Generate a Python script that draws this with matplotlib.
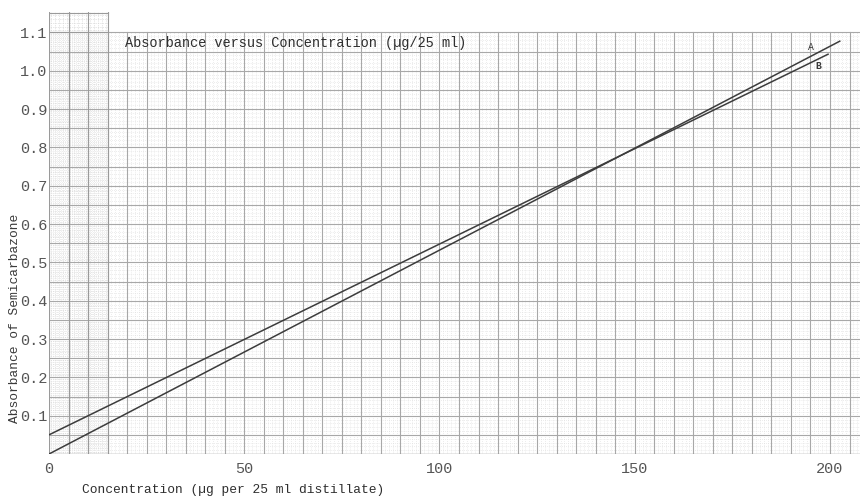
import numpy as np
import matplotlib.pyplot as plt
from matplotlib.ticker import FixedLocator

# line end points
conc = [0, 202.5]
absorb_A = [0.0, 1.077]
conc_B = [0, 199.5]
absorb_B = [0.05, 1.043]

xticks = [0, 50, 100, 150, 200]
yticks = [0.1, 0.2, 0.3, 0.4, 0.5, 0.6, 0.7, 0.8, 0.9, 1.0, 1.1]
ytick_labels = ["0.1", "0.2", "0.3", "0.4", "0.5", "0.6", "0.7", "0.8", "0.9", "1.0", "1.1"]

mono = "Liberation Mono"
ink = "#3a3a3a"

fig = plt.figure(figsize=(8.6, 4.97), dpi=100)
ax = fig.add_axes([49 / 860, 1 - 454 / 497, (860 - 49) / 860, (454 - 12) / 497])

x_max = (860 - 49) / 3.905
y_top = (454 - 12) / 383.3
ax.set_xlim(0, x_max)
ax.set_ylim(0, y_top)

# graph paper: faint dotted rulings, major rulings every 5 units / 0.05
for xv in np.arange(1, x_max, 1):
    ax.plot([xv, xv], [0, 1.1], color="#dadada", lw=0.5, ls=(0, (1, 2)), zorder=0)
for yv in np.arange(0.01, 1.1, 0.01):
    ax.plot([0, x_max], [yv, yv], color="#dadada", lw=0.5, ls=(0, (1, 2)), zorder=0)
for xv in np.arange(5, x_max, 5):
    ax.plot([xv, xv], [0, 1.1], color="#a8a8a8", lw=0.8, zorder=1)
for yv in np.arange(0.05, 1.101, 0.05):
    ax.plot([0, x_max], [yv, yv], color="#a8a8a8", lw=0.8, zorder=1)
# the denser strip at the left edge of the sheet
for xv in np.arange(0.5, 15, 1):
    ax.plot([xv, xv], [0, y_top], color="#cfcfcf", lw=0.5, ls=(0, (1, 1.5)), zorder=0)
for yv in np.arange(0.005, y_top, 0.01):
    ax.plot([0, 15], [yv, yv], color="#cfcfcf", lw=0.5, ls=(0, (1, 1.5)), zorder=0)
for xv in [0, 5, 10, 15]:
    ax.plot([xv, xv], [0, y_top], color="#9a9a9a", lw=0.8, zorder=1)
for yv in np.arange(1.1, y_top, 0.05):
    ax.plot([0, 15], [yv, yv], color="#9a9a9a", lw=0.8, zorder=1)
ax.plot([0, x_max], [0, 0], color="#8a8a8a", lw=1.0, zorder=1)

ax.plot(conc, absorb_A, color="#3c3c3c", lw=1.1, zorder=3)
ax.plot(conc_B, absorb_B, color="#3c3c3c", lw=1.1, zorder=3)
ax.text(195, 1.062, "A", fontsize=7, color=ink, family=mono, ha="center", va="center")
ax.text(197, 1.012, "B", fontsize=7, color=ink, family=mono, fontweight="bold", ha="center", va="center")

ax.text(19.5, 1.072, "Absorbance versus Concentration (\u00b5g/25 ml)",
        fontsize=9.8, color="#2e2e2e", family=mono, va="center")

for s in ax.spines.values():
    s.set_visible(False)
ax.xaxis.set_major_locator(FixedLocator(xticks))
ax.yaxis.set_major_locator(FixedLocator(yticks))
ax.set_yticklabels(ytick_labels)
ax.tick_params(length=0, labelsize=11, labelcolor="#555555")
for lab in ax.get_xticklabels() + ax.get_yticklabels():
    lab.set_family(mono)
ax.tick_params(axis="x", pad=6)
ax.tick_params(axis="y", pad=1)

fig.text(82 / 860, 1 - 490 / 497, "Concentration (\u00b5g per 25 ml distillate)",
         fontsize=9.3, color="#2e2e2e", family=mono, va="center", ha="left")
fig.text(15 / 860, 1 - 318 / 497, "Absorbance of Semicarbazone", rotation=90,
         fontsize=9.3, color="#3a3a3a", family=mono, va="center", ha="center")

fig.savefig("out.png", dpi=100, facecolor="white")
